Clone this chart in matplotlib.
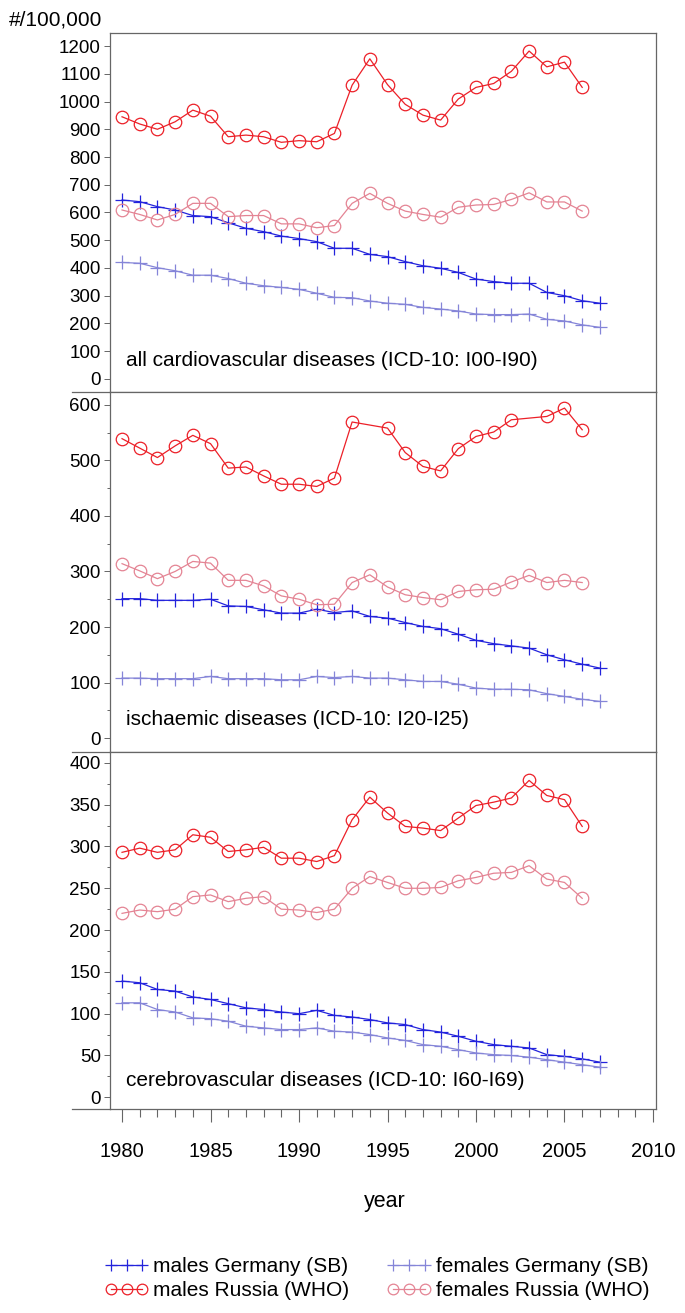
import matplotlib
matplotlib.use('Agg')
import matplotlib.pyplot as plt
from matplotlib.lines import Line2D
from matplotlib.ticker import MultipleLocator

plt.rcParams['font.family'] = ['Liberation Sans', 'DejaVu Sans']

years = list(range(1980, 2008))

# all cardiovascular diseases (ICD-10: I00-I90)
cvd_m_ger = [645, 639, 621, 609, 589, 585, 563, 543, 531, 515, 506, 495, 471, 471,
             449, 441, 423, 408, 399, 384, 360, 351, 345, 345, 312, 300, 282, 273]
cvd_f_ger = [420, 417, 401, 390, 374, 374, 362, 345, 336, 330, 323, 309, 294, 293,
             281, 273, 269, 258, 252, 245, 234, 232, 232, 234, 215, 209, 195, 186]
cvd_m_rus = [945, 919, 900, 927, 969, 947, 873, 879, 873, 853, 859, 855, 885, 1059,
             1154, 1061, 990, 951, 933, 1009, 1051, 1065, 1109, 1182, 1125, 1142, 1051, None]
cvd_f_rus = [609, 593, 573, 593, 633, 633, 585, 589, 589, 559, 559, 545, 553, 633,
             669, 633, 605, 593, 583, 619, 627, 629, 647, 671, 638, 638, 605, None]

# ischaemic diseases (ICD-10: I20-I25)
isc_m_ger = [251, 251, 248, 248, 248, 250, 238, 237, 231, 225, 225, 232, 226, 229,
             219, 216, 208, 201, 197, 187, 176, 170, 166, 162, 150, 141, 133, 126]
isc_f_ger = [108, 108, 107, 107, 107, 111, 107, 107, 107, 105, 105, 111, 109, 111,
             108, 108, 105, 102, 102, 97, 90, 88, 88, 87, 80, 75, 70, 66]
isc_m_rus = [539, 522, 505, 526, 545, 530, 486, 488, 472, 457, 457, 453, 468, 569,
             None, 558, 514, 489, 481, 521, 543, 551, 573, None, 579, 594, 555, None]
isc_f_rus = [314, 301, 287, 300, 318, 315, 284, 284, 274, 256, 250, 240, 241, 280,
             294, 272, 258, 253, 249, 264, 267, 268, 281, 293, 280, 284, 280, None]

# cerebrovascular diseases (ICD-10: I60-I69)
cer_m_ger = [139, 137, 129, 127, 120, 117, 112, 107, 105, 102, 100, 104, 98, 96,
             93, 89, 87, 81, 78, 73, 67, 63, 61, 59, 51, 49, 46, 42]
cer_f_ger = [113, 113, 105, 102, 95, 94, 91, 85, 83, 81, 81, 83, 79, 78,
             75, 71, 68, 63, 61, 57, 53, 51, 50, 48, 45, 42, 39, 36]
cer_m_rus = [293, 298, 293, 296, 314, 311, 294, 296, 299, 286, 286, 282, 289, 332,
             359, 340, 324, 322, 319, 334, 349, 353, 358, 379, 361, 356, 324, None]
cer_f_rus = [220, 224, 222, 225, 240, 242, 234, 238, 240, 225, 224, 221, 225, 250,
             264, 257, 250, 250, 251, 259, 263, 268, 269, 277, 261, 257, 238, None]

series_labels = ['males Germany (SB)', 'females Germany (SB)',
                 'males Russia (WHO)', 'females Russia (WHO)']
panel_titles = ['all cardiovascular diseases (ICD-10: I00-I90)',
                'ischaemic diseases (ICD-10: I20-I25)',
                'cerebrovascular diseases (ICD-10: I60-I69)']

colors = ['#2323dc', '#8585d8', '#ec2028', '#e48494']
markers = ['+', '+', 'o', 'o']

W, H = 685, 1313
fig = plt.figure(figsize=(W / 100, H / 100), dpi=100)

# panel frames in pixels (top, bottom)
frames = [(33, 392), (392, 752), (752, 1109)]
x_left, x_right = 110, 656
ylims = [(-47, 1247), (-25, 623), (-14, 413)]
ysteps = [(100, None), (100, 50), (50, 25)]
panel_data = [
    [cvd_m_ger, cvd_f_ger, cvd_m_rus, cvd_f_rus],
    [isc_m_ger, isc_f_ger, isc_m_rus, isc_f_rus],
    [cer_m_ger, cer_f_ger, cer_m_rus, cer_f_rus],
]
ymaxes = [1200, 600, 400]
label_y = [0.089, 0.089, 0.081]

spine_col = '#666666'
handles = []
for i, (top, bot) in enumerate(frames):
    ax = fig.add_axes([x_left / W, 1 - bot / H, (x_right - x_left) / W, (bot - top) / H])
    for j, series in enumerate(panel_data[i]):
        # years without a value are skipped, the line joins the neighbours
        xs = [y for y, v in zip(years, series) if v is not None]
        vs = [v for v in series if v is not None]
        if markers[j] == 'o':
            line, = ax.plot(xs, vs, color=colors[j], lw=0.9, marker='o', ms=9,
                            mfc='none', mec=colors[j], mew=0.9, label=series_labels[j])
        else:
            line, = ax.plot(xs, vs, color=colors[j], lw=0.9, marker='+', ms=10,
                            mew=0.9, label=series_labels[j])
        if i == 0:
            handles.append(line)
    ax.set_xlim(1979.32, 2010.17)
    ax.set_ylim(*ylims[i])
    major, minor = ysteps[i]
    ax.set_yticks(range(0, ymaxes[i] + 1, major))
    if minor:
        ax.yaxis.set_minor_locator(MultipleLocator(minor))
    ax.tick_params(axis='y', which='major', direction='out', length=4.5, width=0.7,
                   color=spine_col, labelsize=13.5, pad=2)
    ax.tick_params(axis='y', which='minor', direction='out', length=2.5, width=0.7,
                   color=spine_col)
    for s in ax.spines.values():
        s.set_color(spine_col)
        s.set_linewidth(0.9)
    ax.text(0.029, label_y[i], panel_titles[i], transform=ax.transAxes,
            fontsize=15, va='center', ha='left')
    if i < 2:
        ax.tick_params(axis='x', which='both', bottom=False, labelbottom=False)
    else:
        ax.set_xticks(range(1980, 2011, 5))
        ax.xaxis.set_minor_locator(MultipleLocator(1))
        ax.tick_params(axis='x', which='major', direction='out', length=9.5, width=0.8,
                       color=spine_col, labelsize=14.5, pad=14)
        ax.tick_params(axis='x', which='minor', direction='out', length=5.5, width=0.8,
                       color=spine_col)

# divider / axis lines reaching out to the left of the frame
for yy in (392, 752, 1109):
    fig.add_artist(Line2D([72 / W, x_left / W], [1 - yy / H, 1 - yy / H],
                          color=spine_col, lw=0.9, transform=fig.transFigure))

fig.text(9 / W, 1 - 20 / H, '#/100,000', fontsize=15, ha='left', va='center')
fig.text(385 / W, 1 - 1202 / H, 'year', fontsize=15.5, ha='center', va='center')

fig.legend(handles=[handles[0], handles[2], handles[1], handles[3]],
           labels=[series_labels[0], series_labels[2], series_labels[1], series_labels[3]],
           ncol=2, numpoints=3, frameon=False, fontsize=15, markerscale=0.85,
           handlelength=2.1, handletextpad=0.24, columnspacing=1.8, labelspacing=0.25,
           loc='center', bbox_to_anchor=(377 / W, 1 - 1278.5 / H))

fig.savefig('out.png', dpi=100)
